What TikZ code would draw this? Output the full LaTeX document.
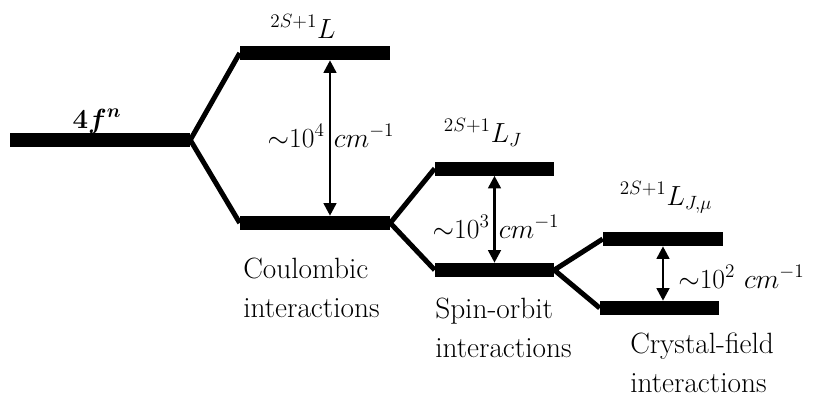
\documentclass[tikz,border=0pt]{standalone}
\usepackage{amsmath, amssymb, bm}
\usepackage{tikz}
\usetikzlibrary{arrows.meta, positioning, calc}

\begin{document}
\begin{tikzpicture}[x=0.75pt, y=-0.75pt,
    level/.style={fill=black, inner sep=0pt, minimum height=10.5pt},
    split/.style={line width=3.75pt, line join=miter},
    gap/.style={line width=2pt, {Triangle[length=9.5pt,width=9.5pt]}-{Triangle[length=9.5pt,width=9.5pt]}},
    every node/.style={font=\fontsize{22}{29}\selectfont}]
  \useasboundingbox (0,0) rectangle (819,396);
  % levels
  \node[level, minimum width=135pt] (f) at (100,140) {};
  \node[level, minimum width=112.5pt] (L) at (315,53) {};
  \node[level, minimum width=112.5pt] (C) at (315,223) {};
  \node[level, minimum width=89.25pt] (J) at (494.5,168.5) {};
  \node[level, minimum width=89.25pt] (S) at (494.5,270) {};
  \node[level, minimum width=90pt] (M) at (663,239) {};
  \node[level, minimum width=89.25pt] (N) at (659.5,308) {};
  % splittings
  \draw[split] (L.west) -- (f.east) -- (C.west);
  \draw[split] (J.west) -- (C.east) -- (S.west);
  \draw[split] (M.west) -- (S.east) -- (N.west);
  % labels
  \node[anchor=base] (lblF) at (97,128) {$\bm{4f^n}$};
  \node[anchor=base] (lblL) at (303,38) {$^{2S+1}L$};
  \node[anchor=base] (lblJ) at (483,142) {$^{2S+1}L_J$};
  \node[anchor=base] (lblM) at (666,205) {$^{2S+1}L_{J,\mu}$};
  \node[anchor=base] (eL) at (331,147) {${\sim}10^4\hspace{7pt}cm^{-1}$};
  \node[anchor=base] (eJ) at (496,238) {${\sim}10^3\hspace{7pt}cm^{-1}$};
  \node[anchor=base west, inner sep=0pt] (eM) at (678,288) {${\sim}10^2\ cm^{-1}$};
  % gaps
  \draw[gap] ($(L.south)+(15,0)$) -- ($(C.north)+(15,0)$);
  \draw[gap] (J.south) -- (S.north);
  \draw[gap] (M.south) -- (M.south |- N.north);
  \node[anchor=base west, align=left, inner sep=0pt] (coul) at (243,317) {Coulombic\\interactions};
  \node[anchor=base west, align=left, inner sep=0pt] (so) at (435,357) {Spin-orbit\\interactions};
  \node[anchor=base west, align=left, inner sep=0pt] (cf) at (630,392) {Crystal-field\\interactions};
\end{tikzpicture}
\end{document}
